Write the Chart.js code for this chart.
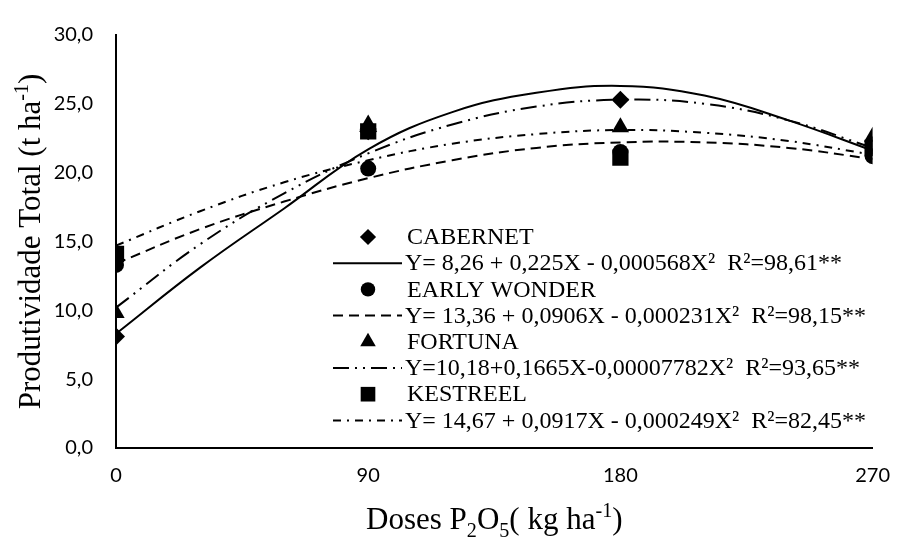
<!DOCTYPE html>
<html>
<head>
<meta charset="utf-8">
<script src="https://cdn.jsdelivr.net/npm/chart.js@4.4.1/dist/chart.umd.min.js"></script>
<style>
  html, body { margin: 0; padding: 0; background: #fff; }
  #wrap { width: 906px; height: 537px; }
</style>
</head>
<body>
<div id="wrap"><canvas id="myChart" width="906" height="537"></canvas></div>
<script>
// measured points
const doses = [0, 90, 180, 270];
const cabernet = [8.1, 23.0, 25.3, 22.0];
const earlyWonder = [13.3, 20.3, 21.5, 21.2];
const fortuna = [9.8, 23.5, 23.3, 22.6];
const kestreel = [14.1, 23.0, 21.1, 21.8];

// trend curves
const curveX = [0, 30, 60, 90, 120, 150, 180, 210, 240, 270];
const cabernetCurve = [8.3, 13.1, 17.4, 21.7, 24.4, 25.8, 26.3, 25.6, 23.8, 21.6];
const earlyWonderCurve = [13.4, 15.9, 17.9, 19.6, 20.9, 21.8, 22.2, 22.2, 21.8, 21.0];
const fortunaCurve = [10.2, 14.8, 18.5, 21.4, 23.5, 24.8, 25.3, 25.0, 23.8, 21.8];
const kestreelCurve = [14.7, 17.2, 19.3, 20.9, 22.1, 22.8, 23.1, 22.9, 22.3, 21.3];

const names = ["CABERNET", "EARLY WONDER", "FORTUNA", "KESTREEL"];
const equations = [
  "Y= 8,26 + 0,225X - 0,000568X²  R²=98,61**",
  "Y= 13,36 + 0,0906X - 0,000231X²  R²=98,15**",
  "Y=10,18+0,1665X-0,00007782X²  R²=93,65**",
  "Y= 14,67 + 0,0917X - 0,000249X²  R²=82,45**"
];

const markerStyles = ["rectRot", "circle", "triangle", "rect"];
const markerSizes = [9, 8, 10, 11.5];
const lineDashes = [[], [10, 6], [16, 6, 2, 6, 2, 6], [8, 6, 2, 6]];

const toXY = (xs, ys) => xs.map((x, i) => ({ x: x, y: ys[i] }));

const pointSets = [cabernet, earlyWonder, fortuna, kestreel];
const curveSets = [cabernetCurve, earlyWonderCurve, fortunaCurve, kestreelCurve];

const datasets = [];
pointSets.forEach((vals, i) => {
  datasets.push({
    label: names[i],
    data: toXY(doses, vals),
    showLine: false,
    pointStyle: markerStyles[i],
    pointRadius: markerSizes[i],
    pointBackgroundColor: "#000",
    pointBorderWidth: 0,
    borderColor: "#000"
  });
});
curveSets.forEach((vals, i) => {
  datasets.push({
    label: equations[i],
    data: toXY(curveX, vals),
    showLine: true,
    pointRadius: 0,
    borderColor: "#000",
    borderWidth: 2,
    borderDash: lineDashes[i],
    tension: 0.4
  });
});

/* draws text pieces with sub / superscripts */
function drawRich(ctx, parts, size, family) {
  let w = 0;
  parts.forEach(p => {
    const s = p.sub || p.sup ? size * 0.65 : size;
    ctx.font = s + "px " + family;
    p.w = ctx.measureText(p.t).width;
    w += p.w;
  });
  let x = -w / 2;
  parts.forEach(p => {
    const s = p.sub || p.sup ? size * 0.65 : size;
    ctx.font = s + "px " + family;
    let dy = 0;
    if (p.sub) dy = size * 0.25;
    if (p.sup) dy = -size * 0.38;
    ctx.fillText(p.t, x, dy);
    x += p.w;
  });
}

const titles = {
  id: "titles",
  afterDraw(chart) {
    const ctx = chart.ctx;
    const area = chart.chartArea;
    const fam = '"Liberation Serif", "Times New Roman", serif';
    ctx.save();
    ctx.fillStyle = "#000";
    ctx.textAlign = "left";
    ctx.textBaseline = "alphabetic";
    ctx.translate((area.left + area.right) / 2, 529);
    drawRich(ctx, [
      { t: "Doses P" }, { t: "2", sub: true }, { t: "O" }, { t: "5", sub: true },
      { t: "( kg ha" }, { t: "-1", sup: true }, { t: ")" }
    ], 31, fam);
    ctx.restore();

    ctx.save();
    ctx.fillStyle = "#000";
    ctx.textBaseline = "alphabetic";
    ctx.translate(40, (area.top + area.bottom) / 2);
    ctx.rotate(-Math.PI / 2);
    drawRich(ctx, [
      { t: "Produtividade Total (t ha" }, { t: "-1", sup: true }, { t: ")" }
    ], 31, fam);
    ctx.restore();
  }
};

const legendBox = {
  id: "legendBox",
  afterDraw(chart) {
    const ctx = chart.ctx;
    const rowH = 26.2;
    ctx.save();
    ctx.fillStyle = "#000";
    ctx.strokeStyle = "#000";
    ctx.textBaseline = "middle";
    ctx.font = '24px "Liberation Serif", "Times New Roman", serif';
    for (let i = 0; i < names.length; i++) {
      const yName = 237 + i * 2 * rowH;
      const yEq = yName + rowH;
      Chart.helpers.drawPoint(ctx, {
        pointStyle: markerStyles[i], radius: markerSizes[i] * 0.9, borderWidth: 0, rotation: 0
      }, 368, yName);
      ctx.fillText(names[i], 407, yName + 1);

      ctx.beginPath();
      ctx.lineWidth = 2;
      ctx.setLineDash(lineDashes[i]);
      ctx.moveTo(333, yEq);
      ctx.lineTo(402, yEq);
      ctx.stroke();
      ctx.setLineDash([]);
      ctx.fillText(equations[i], 405, yEq + 1);
    }
    ctx.restore();
  }
};

const ctx = document.getElementById("myChart").getContext("2d");
const myChart = new Chart(ctx, {
  type: "scatter",
  data: { datasets: datasets },
  options: {
    responsive: false,
    animation: false,
    devicePixelRatio: 1,
    layout: { padding: { top: 26, right: 21, left: 0, bottom: 0 } },
    plugins: {
      legend: { display: false },
      tooltip: { enabled: false }
    },
    scales: {
      x: {
        type: "linear",
        min: 0,
        max: 270,
        afterFit(scale) { scale.height = 89; },
        afterBuildTicks(scale) { scale.ticks = doses.map(v => ({ value: v })); },
        grid: { display: false, drawTicks: false },
        border: { display: true, color: "#000", width: 2 },
        ticks: {
          padding: 16,
          color: "#000",
          font: { family: "Lato", size: 20 }
        }
      },
      y: {
        min: 0,
        max: 30,
        afterFit(scale) { scale.width = 116; },
        grid: { display: false, drawTicks: false },
        border: { display: true, color: "#000", width: 2 },
        ticks: {
          stepSize: 5,
          padding: 23,
          color: "#000",
          font: { family: "Lato", size: 20 },
          callback: v => v.toFixed(1).replace(".", ",")
        }
      }
    }
  },
  plugins: [titles, legendBox]
});
</script>
</body>
</html>
